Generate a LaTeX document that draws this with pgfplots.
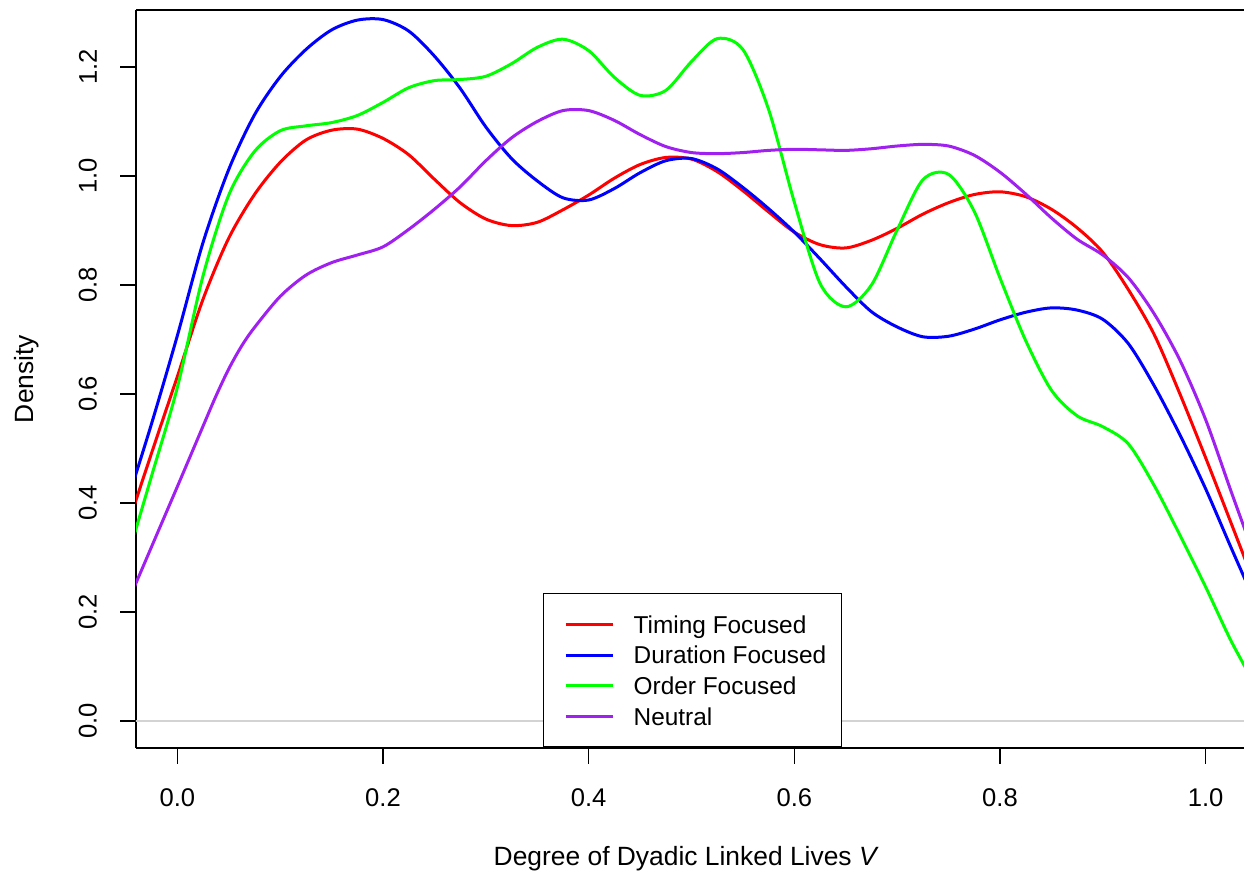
\documentclass[border=0pt]{standalone}
\usepackage{fontspec}
\setmainfont{Liberation Sans}
\usepackage{pgfplots}
\pgfplotsset{compat=1.18}
\definecolor{rpurple}{RGB}{160,32,240}
\definecolor{zeroline}{RGB}{211,211,211}
\begin{document}
\begin{tikzpicture}
\begin{axis}[
  name=ax,
  scale only axis,
  width=554pt, height=369pt,
  xmin=-0.0402, xmax=1.0373,
  ymin=-0.0495, ymax=1.3046,
  axis x line*=bottom, axis y line*=left,
  axis line style={line width=0.8pt, black},
  xtick={0,0.2,0.4,0.6,0.8,1},
  ytick={0,0.2,0.4,0.6,0.8,1,1.2},
  tick align=outside, tick pos=left,
  major tick length=8pt,
  every tick/.style={black, line width=0.8pt},
  /pgf/number format/fixed,
  /pgf/number format/fixed zerofill,
  /pgf/number format/precision=1,
  /pgf/number format/assume math mode=true,
  tick label style={font=\fontsize{12.8}{15}\selectfont},
  xticklabel style={anchor=base, inner sep=0pt, yshift=-21.35pt},
  yticklabel style={inner sep=0pt, xshift=-10.85pt, rotate=90, anchor=south},
  xlabel={Degree of Dyadic Linked Lives \textit{V}},
  ylabel={Density},
  every axis x label/.style={at={(axis description cs:0.4966,0)}, anchor=base, inner sep=0pt, yshift=-59pt, font=\fontsize{13.2}{16}\selectfont},
  every axis y label/.style={at={(axis description cs:0,0.5)}, xshift=-51.35pt, rotate=90, anchor=base, inner sep=0pt, font=\fontsize{13.2}{16}\selectfont},
  legend style={
    at={(axis description cs:0.3673,0)}, anchor=south west,
    draw=black, line width=0.75pt, fill=white,
    inner xsep=10.25pt, inner ysep=7.7pt,
    font=\fontsize{12.2}{14}\selectfont,
    nodes={inner sep=0pt, text height=12.05pt, text depth=3.3pt},
    column sep=9.75pt, row sep=0pt,
  },
  legend cell align=left,
  legend image code/.code={\draw[#1, line width=1.5pt] (0pt,0pt) -- (23.5pt,0pt);},
  smooth, line width=1.5pt,
]
\addplot[zeroline, line width=0.75pt, forget plot, sharp plot] coordinates {(-0.1,0) (1.1,0)};

\addplot[red] coordinates {
(-0.050,0.349) (-0.025,0.492) (0.000,0.632) (0.025,0.774) (0.050,0.886)
(0.075,0.966) (0.100,1.025) (0.125,1.066) (0.150,1.084) (0.175,1.086)
(0.200,1.069) (0.225,1.039) (0.250,0.994) (0.275,0.951) (0.300,0.921)
(0.325,0.909) (0.350,0.915) (0.375,0.938) (0.400,0.965) (0.425,0.996)
(0.450,1.021) (0.475,1.034) (0.500,1.031) (0.525,1.008) (0.550,0.973)
(0.575,0.934) (0.600,0.897) (0.625,0.874) (0.650,0.868) (0.675,0.882)
(0.700,0.904) (0.725,0.930) (0.750,0.951) (0.775,0.966) (0.800,0.971)
(0.825,0.962) (0.850,0.939) (0.875,0.905) (0.900,0.860) (0.925,0.791)
(0.950,0.709) (0.975,0.600) (1.000,0.483) (1.025,0.362) (1.050,0.240)};
\addlegendentry{Timing Focused\hspace*{-2.75pt}}

\addplot[blue] coordinates {
(-0.050,0.395) (-0.025,0.546) (0.000,0.707) (0.025,0.878) (0.050,1.012)
(0.075,1.112) (0.100,1.182) (0.125,1.232) (0.150,1.268) (0.175,1.286)
(0.200,1.287) (0.225,1.266) (0.250,1.220) (0.275,1.161) (0.300,1.090)
(0.325,1.032) (0.350,0.991) (0.375,0.960) (0.400,0.956) (0.425,0.977)
(0.450,1.006) (0.475,1.028) (0.500,1.032) (0.525,1.013) (0.550,0.979)
(0.575,0.940) (0.600,0.897) (0.625,0.848) (0.650,0.797) (0.675,0.751)
(0.700,0.723) (0.725,0.705) (0.750,0.706) (0.775,0.719) (0.800,0.736)
(0.825,0.750) (0.850,0.758) (0.875,0.754) (0.900,0.737) (0.925,0.692)
(0.950,0.615) (0.975,0.525) (1.000,0.426) (1.025,0.317) (1.050,0.210)};
\addlegendentry{Duration Focused\hspace*{-2.75pt}}

\addplot[green] coordinates {
(-0.050,0.290) (-0.025,0.450) (0.000,0.612) (0.025,0.817) (0.050,0.965)
(0.075,1.045) (0.100,1.083) (0.125,1.092) (0.150,1.098) (0.175,1.111)
(0.200,1.135) (0.225,1.162) (0.250,1.175) (0.275,1.177) (0.300,1.183)
(0.325,1.206) (0.350,1.236) (0.375,1.251) (0.400,1.230) (0.425,1.181)
(0.450,1.148) (0.475,1.157) (0.500,1.210) (0.525,1.252) (0.550,1.232)
(0.575,1.122) (0.600,0.952) (0.625,0.803) (0.650,0.760) (0.675,0.800)
(0.700,0.901) (0.725,0.993) (0.750,1.003) (0.775,0.935) (0.800,0.813)
(0.825,0.698) (0.850,0.607) (0.875,0.560) (0.900,0.540) (0.925,0.508)
(0.950,0.432) (0.975,0.341) (1.000,0.246) (1.025,0.146) (1.050,0.060)};
\addlegendentry{Order Focused\hspace*{-2.75pt}}

\addplot[rpurple] coordinates {
(-0.050,0.210) (-0.025,0.320) (0.000,0.430) (0.025,0.541) (0.0375,0.596)
(0.050,0.646) (0.0625,0.688) (0.075,0.722) (0.100,0.779) (0.125,0.818)
(0.150,0.841) (0.175,0.855) (0.200,0.870) (0.225,0.902) (0.250,0.939)
(0.275,0.980) (0.300,1.028) (0.325,1.070) (0.350,1.100) (0.375,1.120)
(0.400,1.120) (0.425,1.102) (0.450,1.076) (0.475,1.054) (0.500,1.043)
(0.525,1.041) (0.550,1.043) (0.575,1.047) (0.600,1.049) (0.625,1.048)
(0.650,1.047) (0.675,1.050) (0.700,1.055) (0.725,1.058) (0.750,1.055)
(0.775,1.038) (0.800,1.007) (0.825,0.967) (0.850,0.923) (0.875,0.884)
(0.900,0.855) (0.925,0.813) (0.950,0.747) (0.975,0.662) (1.000,0.553)
(1.025,0.420) (1.050,0.290)};
\addlegendentry{Neutral\hspace*{-2.75pt}}
\end{axis}
\draw[line width=0.8pt] (ax.north west) -- (ax.north east);
\pgfresetboundingbox
\path ([shift={(-68pt,-61.5pt)}]ax.south west) rectangle ([shift={(0pt,5pt)}]ax.north east);
\end{tikzpicture}
\end{document}
